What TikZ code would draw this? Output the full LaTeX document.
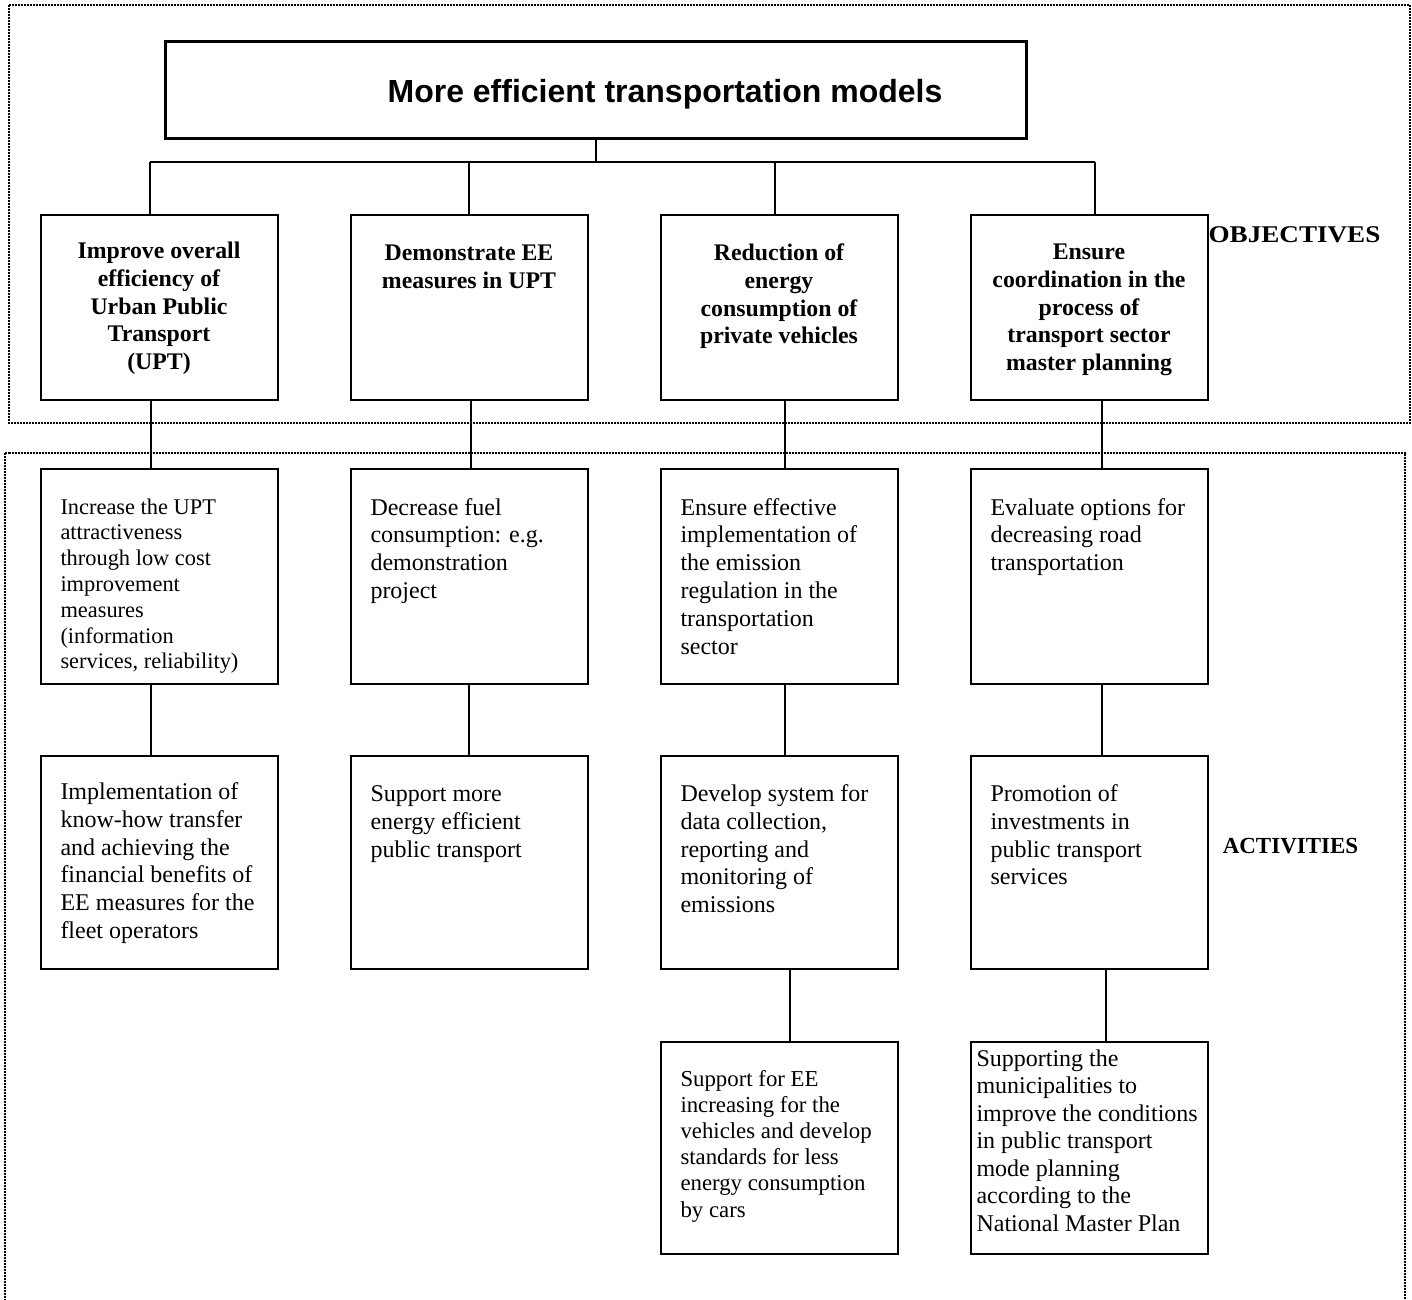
\documentclass[tikz,border=0pt]{standalone}
\usepackage{fontspec}
\usepackage{graphicx}
\setmainfont{Liberation Serif}
\newfontfamily\titlefont{Liberation Sans}

% box body: width, height, first baseline from top, format, text
\newcommand\cellbody[5]{%
  \parbox[c][#2][t]{#1}{#4\vspace*{\dimexpr#3-\ht\strutbox\relax}\strut#5}}
\newcommand\objfont{\centering\fontsize{23.8}{27.8}\selectfont\bfseries}
\newcommand\actfont[2]{\raggedright\leftskip=20pt\fontsize{#1}{#2}\selectfont}

\begin{document}
\begin{tikzpicture}[x=1pt,y=-1pt,
  frame/.style={line width=2pt, dash pattern=on 2pt off 1pt},
  box/.style={draw, line width=2pt, inner sep=0pt, anchor=north west},
  link/.style={line width=2pt},
  tag/.style={font=\fontsize{23}{27}\selectfont\bfseries, inner sep=0pt, anchor=base}]

\useasboundingbox (0,0) rectangle (1412,1299);

% dotted frames around the two levels
\draw[frame] (9,5) rectangle (1410,423);
\draw[frame] (5,1310) -- (5,452.5) -- (1405,452.5) -- (1405,1310);

% goal
\node[box, line width=3pt, minimum width=861pt, minimum height=97pt] (title) at (164,40)
  {\makebox[861pt]{\hspace{138pt}\raisebox{-4pt}[23pt][7pt]{\titlefont\bfseries\fontsize{32}{38}\selectfont More efficient transportation models}}};

% objectives
\node[box] (o1) at (39.5,213.5) {\cellbody{237pt}{185pt}{44pt}{\objfont}{Improve overall\\efficiency of\\Urban Public\\Transport\\(UPT)}};
\node[box] (o2) at (349.5,213.5) {\cellbody{237pt}{185pt}{46pt}{\objfont}{Demonstrate EE\\measures in UPT}};
\node[box] (o3) at (659.5,213.5) {\cellbody{237pt}{185pt}{46pt}{\objfont}{Reduction of\\energy\\consumption of\\private vehicles}};
\node[box] (o4) at (969.5,213.5) {\cellbody{237pt}{185pt}{45pt}{\objfont}{Ensure\\coordination in the\\process of\\transport sector\\master planning}};

% activities, first row
\node[box] (a1) at (39.5,468) {\cellbody{237pt}{214.5pt}{45pt}{\actfont{22.4}{25.8}}{Increase the UPT\\attractiveness\\through low cost\\improvement\\measures\\(information\\services, reliability)}};
\node[box] (a2) at (349.5,468) {\cellbody{237pt}{214.5pt}{46pt}{\actfont{24}{27.8}}{Decrease fuel\\consumption: e.g.\\demonstration\\project}};
\node[box] (a3) at (659.5,468) {\cellbody{237pt}{214.5pt}{46pt}{\actfont{24}{27.8}}{Ensure effective\\implementation of\\the emission\\regulation in the\\transportation\\sector}};
\node[box] (a4) at (969.5,468) {\cellbody{237pt}{214.5pt}{46pt}{\actfont{24}{27.8}}{Evaluate options for\\decreasing road\\transportation}};

% activities, second row
\node[box] (b1) at (39.5,754.5) {\cellbody{237pt}{213.5pt}{44pt}{\actfont{24}{27.8}}{Implementation of\\know-how transfer\\and achieving the\\financial benefits of\\EE measures for the\\fleet operators}};
\node[box] (b2) at (349.5,754.5) {\cellbody{237pt}{213.5pt}{46pt}{\actfont{24}{27.8}}{Support more\\energy efficient\\public transport}};
\node[box] (b3) at (659.5,754.5) {\cellbody{237pt}{213.5pt}{46pt}{\actfont{24}{27.8}}{Develop system for\\data collection,\\reporting and\\monitoring of\\emissions}};
\node[box] (b4) at (969.5,754.5) {\cellbody{237pt}{213.5pt}{46pt}{\actfont{24}{27.8}}{Promotion of\\investments in\\public transport\\services}};

% activities, third row
\node[box] (c3) at (659.5,1041) {\cellbody{237pt}{212pt}{44pt}{\actfont{22.8}{26.2}}{Support for EE\\increasing for the\\vehicles and develop\\standards for less\\energy consumption\\by cars}};
\node[box] (c4) at (969.5,1041) {\cellbody{237pt}{212pt}{24pt}{\actfont{24}{27.5}\leftskip=6pt}{Supporting the\\municipalities to\\improve the conditions\\in public transport\\mode planning\\according to the\\National Master Plan}};

% level labels
\node[tag] (objlabel) at (1294.5,242) {\scalebox{1.13}[1]{\fontsize{24}{28}\selectfont OBJECTIVES}};
\node[tag] (actlabel) at (1290.5,853) {ACTIVITIES};

% tree from the goal to the objectives
\coordinate (d1) at (150,162);
\coordinate (d2) at (469,162);
\coordinate (d3) at (775,162);
\coordinate (d4) at (1095,162);
\draw[link] (d1) -- (d4);
\draw[link] (title.south) -- (title.south |- d1);
\draw[link] (d1) -- (d1 |- o1.north);
\draw[link] (d2) -- (d2 |- o2.north);
\draw[link] (d3) -- (d3 |- o3.north);
\draw[link] (d4) -- (d4 |- o4.north);

% objectives to activities
\draw[link] ([xshift=-8pt]o1.south) -- ([xshift=-8pt]a1.north);
\draw[link] ([xshift=1.5pt]o2.south) -- ([xshift=1.5pt]a2.north);
\draw[link] ([xshift=5.5pt]o3.south) -- ([xshift=5.5pt]a3.north);
\draw[link] ([xshift=12.5pt]o4.south) -- ([xshift=12.5pt]a4.north);

% between activity rows
\draw[link] ([xshift=-8pt]a1.south) -- ([xshift=-8pt]b1.north);
\draw[link] ([xshift=-0.5pt]a2.south) -- ([xshift=-0.5pt]b2.north);
\draw[link] ([xshift=5.5pt]a3.south) -- ([xshift=5.5pt]b3.north);
\draw[link] ([xshift=12.5pt]a4.south) -- ([xshift=12.5pt]b4.north);
\draw[link] ([xshift=10.5pt]b3.south) -- ([xshift=10.5pt]c3.north);
\draw[link] ([xshift=16.5pt]b4.south) -- ([xshift=16.5pt]c4.north);
\end{tikzpicture}
\end{document}
